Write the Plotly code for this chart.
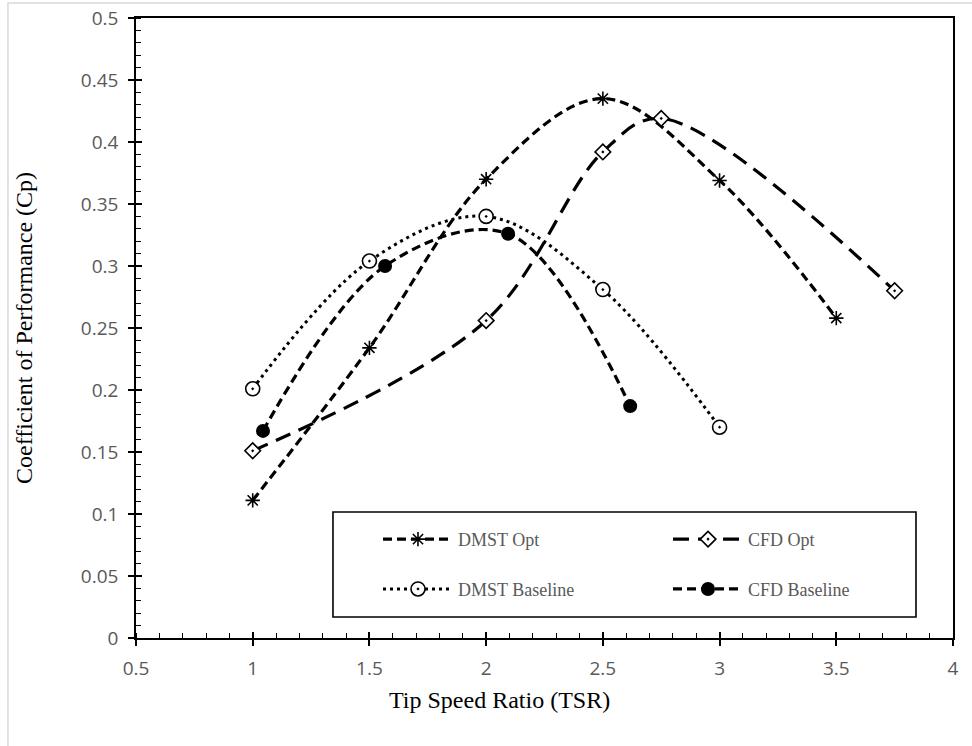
import plotly.graph_objects as go

# ---- data ----
dmst_opt_x = [1, 1.5, 2, 2.5, 3, 3.5]
dmst_opt_y = [0.111, 0.234, 0.370, 0.435, 0.369, 0.258]

cfd_opt_x = [1, 2, 2.5, 2.75, 3.75]
cfd_opt_y = [0.151, 0.256, 0.392, 0.419, 0.280]

dmst_base_x = [1, 1.5, 2, 2.5, 3]
dmst_base_y = [0.201, 0.304, 0.340, 0.281, 0.170]

cfd_base_x = [1.044, 1.567, 2.094, 2.617]
cfd_base_y = [0.167, 0.300, 0.326, 0.187]

x_range = [0.5, 4]
y_range = [0, 0.5]
x_dtick = 0.5
y_dtick = 0.05

BLACK = "#000000"
TICKGRAY = "#595959"

fig = go.Figure()

fig.add_trace(go.Scatter(
    x=dmst_opt_x, y=dmst_opt_y, name="DMST Opt", mode="lines+markers",
    line=dict(color=BLACK, width=3.2, dash="9px,5px", shape="spline", smoothing=1),
    marker=dict(symbol="asterisk-open", size=12, color=BLACK,
                line=dict(color=BLACK, width=1.6)),
    legend="legend"))
fig.add_trace(go.Scatter(
    x=cfd_opt_x, y=cfd_opt_y, name="CFD Opt", mode="lines+markers",
    line=dict(color=BLACK, width=3.2, dash="16px,9px", shape="spline", smoothing=1),
    marker=dict(symbol="diamond-dot", size=12, color="white",
                line=dict(color=BLACK, width=1.6)),
    legend="legend2"))
fig.add_trace(go.Scatter(
    x=dmst_base_x, y=dmst_base_y, name="DMST Baseline", mode="lines+markers",
    line=dict(color=BLACK, width=3, dash="3px,4px", shape="spline", smoothing=1),
    marker=dict(symbol="circle-dot", size=14, color="white",
                line=dict(color=BLACK, width=1.6)),
    legend="legend3"))
fig.add_trace(go.Scatter(
    x=cfd_base_x, y=cfd_base_y, name="CFD Baseline", mode="lines+markers",
    line=dict(color=BLACK, width=3.2, dash="9px,5px", shape="spline", smoothing=1),
    marker=dict(symbol="circle", size=14, color=BLACK),
    legend="legend4"))

# fully transparent copy on the overlay axes so their (inside) major ticks are drawn
fig.add_trace(go.Scatter(x=dmst_opt_x, y=dmst_opt_y, xaxis="x2", yaxis="y2",
                         mode="markers", marker=dict(opacity=0),
                         showlegend=False, hoverinfo="skip"))

tickfont = dict(family="Open Sans", size=19, color=TICKGRAY)
legfont = dict(family="Liberation Serif", size=18, color=TICKGRAY)

col1_x, col2_x = 0.2962, 0.6512
row1_y, row2_y = 0.159, 0.0786


def leg(x, y):
    return dict(orientation="h", x=x, y=y, xanchor="left", yanchor="middle",
                itemwidth=70, bgcolor="rgba(0,0,0,0)", borderwidth=0, font=legfont)


fig.update_layout(
    width=972, height=746,
    margin=dict(l=136, r=19, t=18, b=108, autoexpand=False),
    paper_bgcolor="white", plot_bgcolor="rgba(0,0,0,0)",
    xaxis=dict(range=x_range, tickmode="linear", tick0=x_range[0], dtick=x_dtick,
               showgrid=False, zeroline=False, layer="above traces",
               showline=True, linecolor=BLACK, linewidth=1.6, mirror=True,
               ticks="outside", ticklen=6, tickwidth=1.6, tickcolor=BLACK,
               ticklabelstandoff=6,
               minor=dict(dtick=0.1, ticks="inside", ticklen=5, tickwidth=1.3,
                          tickcolor=BLACK, showgrid=False),
               tickfont=tickfont),
    yaxis=dict(range=y_range, tickmode="linear", tick0=0, dtick=y_dtick,
               showgrid=False, zeroline=False, layer="above traces",
               showline=True, linecolor=BLACK, linewidth=1.6, mirror=True,
               ticks="outside", ticklen=6, tickwidth=1.6, tickcolor=BLACK,
               ticklabelstandoff=6,
               minor=dict(dtick=0.01, ticks="inside", ticklen=5, tickwidth=1.3,
                          tickcolor=BLACK, showgrid=False),
               tickfont=tickfont),
    xaxis2=dict(overlaying="x", anchor="y2", side="bottom", range=x_range,
                tickmode="linear", tick0=x_range[0], dtick=x_dtick,
                showticklabels=False, showgrid=False, zeroline=False, showline=False,
                ticks="inside", ticklen=6, tickwidth=1.6, tickcolor=BLACK),
    yaxis2=dict(overlaying="y", anchor="x2", side="left", range=y_range,
                tickmode="linear", tick0=0, dtick=y_dtick,
                showticklabels=False, showgrid=False, zeroline=False, showline=False,
                ticks="inside", ticklen=6, tickwidth=1.6, tickcolor=BLACK),
    legend=leg(col1_x, row1_y),
    legend2=leg(col2_x, row1_y),
    legend3=leg(col1_x, row2_y),
    legend4=leg(col2_x, row2_y),
    showlegend=True,
    shapes=[
        # legend frame
        dict(type="rect", xref="paper", yref="paper",
             x0=0.2411, x1=0.9547, y0=0.0339, y1=0.2032,
             line=dict(color=BLACK, width=1.6), fillcolor="rgba(0,0,0,0)"),
        # outer chart frame (light gray)
        dict(type="rect", xref="paper", yref="paper",
             x0=-0.1567, x1=1.03, y0=-0.19, y1=1.0242,
             line=dict(color="#d9d9d9", width=1.5), fillcolor="rgba(0,0,0,0)"),
    ],
    annotations=[
        dict(text="Tip Speed Ratio (TSR)", xref="paper", yref="paper",
             x=(499 - 136) / 817, y=-(700 - 638) / 620, xanchor="center", yanchor="middle",
             showarrow=False, font=dict(family="Liberation Serif", size=24, color=BLACK)),
        dict(text="Coefficient of Performance (Cp)", xref="paper", yref="paper",
             x=-(136 - 24) / 817, y=(638 - 328) / 620, xanchor="center", yanchor="middle",
             textangle=-90, showarrow=False,
             font=dict(family="Liberation Serif", size=24, color=BLACK)),
    ],
)

fig.write_html("out.html")
